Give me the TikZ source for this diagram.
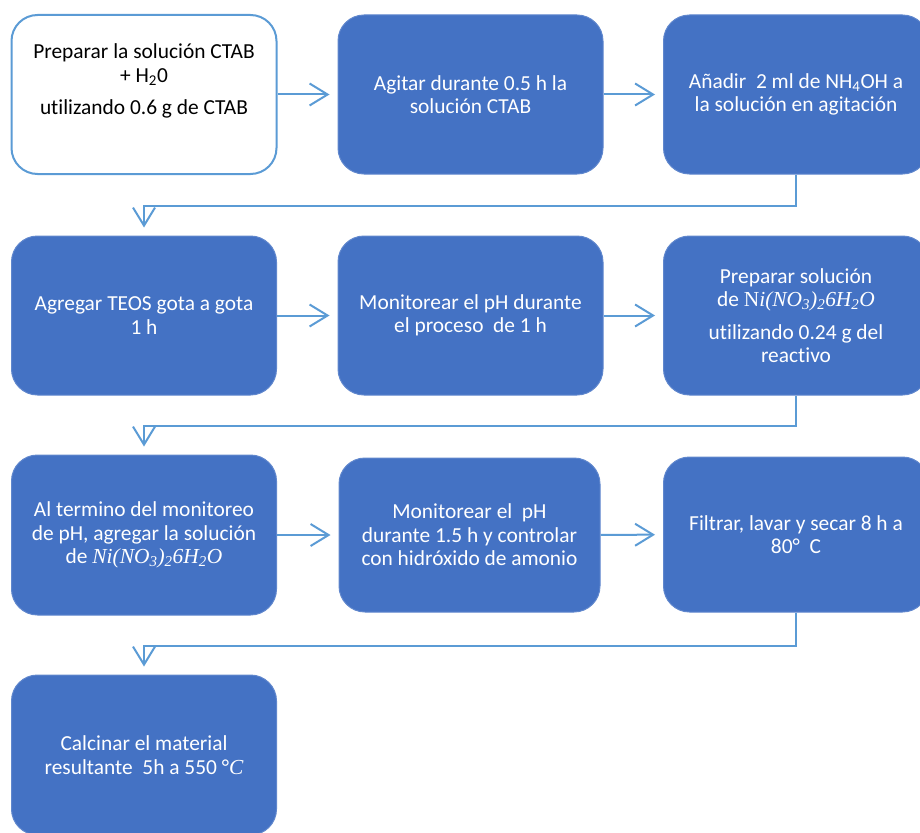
\documentclass[tikz,border=0pt]{standalone}
\usepackage{fontspec}
\setmainfont{Carlito}[Ligatures=NoCommon]
\newfontfamily\formulafont{Liberation Serif}
\usetikzlibrary{arrows.meta}
\definecolor{Boxblue}{RGB}{68,114,196}
\definecolor{Lineblue}{RGB}{91,155,213}
\newcommand{\nitrato}[1]{{\formulafont #1\itshape i(NO\textsubscript{3})\textsubscript{2}6H\textsubscript{2}O}}

\begin{document}
\begin{tikzpicture}[x=1pt, y=-1pt,
            stepbox/.style={rectangle, rounded corners=26pt, fill=Boxblue, draw=Boxblue!85!white, line width=1pt, text=white, align=center, minimum width=265pt, minimum height=159pt, inner sep=0pt, font=\fontsize{21.4}{23.5}\selectfont},
            firstbox/.style={stepbox, fill=white, draw=Lineblue, line width=2pt, text=black},
            link/.style={Lineblue, line width=2pt, -{Straight Barb[length=18pt,width=22pt]}, shorten >=8pt}]
            \useasboundingbox (0,0) rectangle (920,832);

            \node[firstbox] (prep) at (144,94.5) {Preparar la solución CTAB\\ + H\textsubscript{2}0\\[9pt] utilizando 0.6 g de CTAB\\[7pt] \mbox{}};
            \node[stepbox] (agitar) at (470.5,94.5) {Agitar durante 0.5 h la\\ solución CTAB};
            \node[stepbox] (anadir) at (796,94.5) {Añadir\ \ 2 ml de NH\textsubscript{4}OH a\\ la solución en agitación};

            \node[stepbox] (agregar) at (144,315.5) {Agregar TEOS gota a gota\\ 1 h};
            \node[stepbox] (monitor) at (470.5,315.5) {Monitorear el pH durante\\ el proceso\ \ de 1 h};
            \node[stepbox] (prepni) at (796,315.5) {Preparar solución\\ de \nitrato{N}\\[9pt] utilizando 0.24 g del\\ reactivo};

            \node[stepbox, minimum height=160pt] (termino) at (144,535) {Al termino del monitoreo\\ de pH, agregar la solución\\ de \nitrato{\itshape N}};
            \node[stepbox, minimum width=261pt, minimum height=154pt] (monph) at (469.5,535) {Monitorear el\ \ pH\\ durante 1.5 h y controlar\\ con hidróxido de amonio};
            \node[stepbox, minimum height=155pt] (filtrar) at (796,534.5) {Filtrar, lavar y secar 8 h a\\ 80°\ \ C};

            \node[stepbox, minimum height=160pt] (calcinar) at (144,755) {Calcinar el material\\ resultante\ \ 5h a 550 °{\formulafont\itshape C}};

            \draw[link] (prep) -- (agitar);
            \draw[link] (agitar) -- (anadir);
            \draw[link] (anadir.south) -- ++(0,31) -| (agregar.north);
            \draw[link] (agregar) -- (monitor);
            \draw[link] (monitor) -- (prepni);
            \draw[link] (prepni.south) -- ++(0,30) -| (termino.north);
            \draw[link] (termino) -- (monph);
            \draw[link] (monph) -- (filtrar);
            \draw[link] (filtrar.south) -- ++(0,33) -| (calcinar.north);
        \end{tikzpicture}
\end{document}
